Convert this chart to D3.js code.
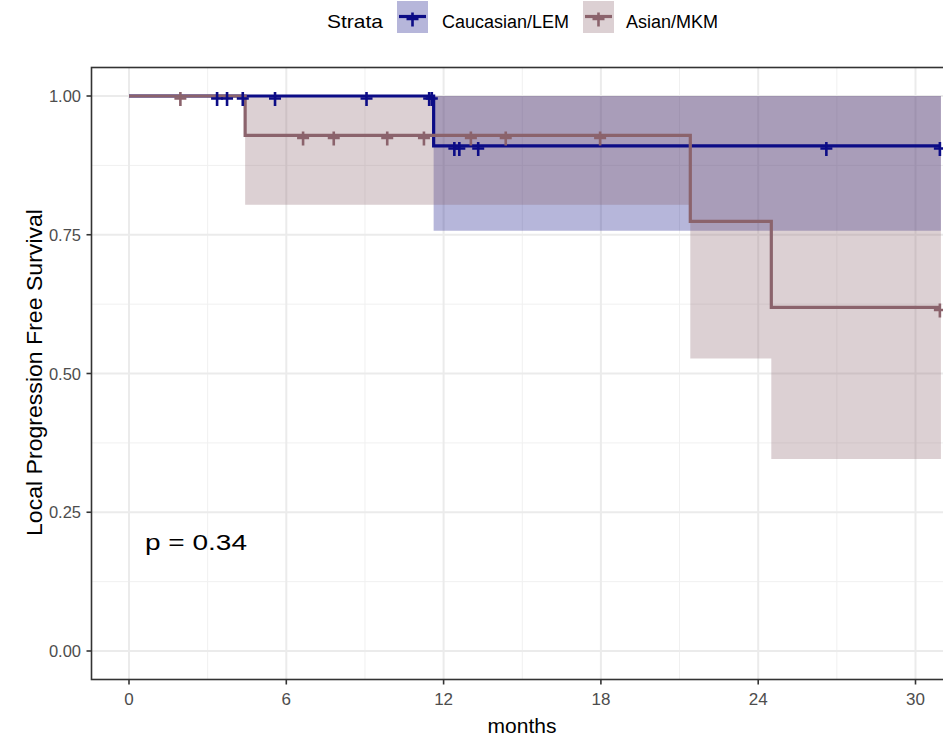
<!DOCTYPE html>
<html>
<head>
<meta charset="utf-8">
<script src="https://cdn.jsdelivr.net/npm/d3@7"></script>
<style>
    body { margin: 0; background: #fff; }
    svg text { font-family: "Liberation Sans", Arial, sans-serif; }
</style>
</head>
<body>
<svg id="chart"></svg>
<script>

// Strata
const strata = ["Caucasian/LEM", "Asian/MKM"];
const strataColors = ["#0c0c86", "#8b636c"];

// Caucasian/LEM curve (step times, survival, confidence band)
const lemTime = [0, 11.62, 30.97];
const lemSurv = [1.0, 0.91, 0.91];
const lemLower = [1.0, 0.757, 0.757];
const lemUpper = [1.0, 1.0, 1.0];
const lemCensor = [3.36, 3.74, 4.34, 5.57, 9.06, 11.45, 11.55, 12.41, 12.6, 13.32, 26.6, 30.93];

// Asian/MKM curve
const mkmTime = [0, 4.43, 21.41, 24.5, 30.97];
const mkmSurv = [1.0, 0.929, 0.774, 0.619, 0.619];
const mkmLower = [1.0, 0.804, 0.527, 0.346, 0.346];
const mkmUpper = [1.0, 1.0, 1.0, 1.0, 1.0];
const mkmCensor = [1.96, 6.64, 7.81, 9.85, 11.25, 13.04, 14.37, 17.97, 30.93];

// Axes
const xTicks = [0, 6, 12, 18, 24, 30];
const xMinor = [3, 9, 15, 21, 27];
const yTicks = [0, 0.25, 0.5, 0.75, 1.0];
const yMinor = [0.125, 0.375, 0.625, 0.875];
const pValue = "p = 0.34";

const width = 943;
const height = 737;

const svg = d3.select("#chart")
    .attr("width", width)
    .attr("height", height);

const x = d3.scaleLinear().domain([0, 30]).range([129, 915.5]);
const y = d3.scaleLinear().domain([0, 1]).range([651, 96]);

// panel edges (ggplot expansion, right side is cut by the picture)
const panel = {left: 91.5, right: 990, top: 67.5, bottom: 679.5};

const curves = [
    {name: strata[0], color: strataColors[0], time: lemTime, surv: lemSurv, lower: lemLower, upper: lemUpper, censor: lemCensor},
    {name: strata[1], color: strataColors[1], time: mkmTime, surv: mkmSurv, lower: mkmLower, upper: mkmUpper, censor: mkmCensor}
];

// survival value at time t for a step curve
const stepAt = (c, t) => {
    let v = c.surv[0];
    c.time.forEach((tt, i) => { if (tt <= t) v = c.surv[i]; });
    return v;
};

// grid
const grid = svg.append("g");

grid.selectAll(".xminor")
    .data(xMinor)
    .enter()
    .append("line")
        .attr("x1", d => x(d)).attr("x2", d => x(d))
        .attr("y1", panel.top).attr("y2", panel.bottom)
        .attr("stroke", "#f0f0f0").attr("stroke-width", 1);

grid.selectAll(".yminor")
    .data(yMinor)
    .enter()
    .append("line")
        .attr("x1", panel.left).attr("x2", panel.right)
        .attr("y1", d => y(d)).attr("y2", d => y(d))
        .attr("stroke", "#f0f0f0").attr("stroke-width", 1);

grid.selectAll(".xmajor")
    .data(xTicks)
    .enter()
    .append("line")
        .attr("x1", d => x(d)).attr("x2", d => x(d))
        .attr("y1", panel.top).attr("y2", panel.bottom)
        .attr("stroke", "#ebebeb").attr("stroke-width", 2);

grid.selectAll(".ymajor")
    .data(yTicks)
    .enter()
    .append("line")
        .attr("x1", panel.left).attr("x2", panel.right)
        .attr("y1", d => y(d)).attr("y2", d => y(d))
        .attr("stroke", "#ebebeb").attr("stroke-width", 2);

// confidence bands
const band = d3.area()
    .curve(d3.curveStepAfter)
    .x(d => x(d.t))
    .y0(d => y(d.lo))
    .y1(d => y(d.hi));

curves.forEach(c => {
    svg.append("path")
        .datum(c.time.map((t, i) => ({t: t, lo: c.lower[i], hi: c.upper[i]})))
        .attr("d", band)
        .attr("fill", c.color)
        .attr("fill-opacity", 0.3);
});

// survival steps
const step = d3.line()
    .curve(d3.curveStepAfter)
    .x(d => x(d.t))
    .y(d => y(d.s));

curves.forEach(c => {
    svg.append("path")
        .datum(c.time.map((t, i) => ({t: t, s: c.surv[i]})))
        .attr("d", step)
        .attr("fill", "none")
        .attr("stroke", c.color)
        .attr("stroke-width", 3.2);
});

// censor marks
const plus = (sel, color) => {
    sel.append("path")
        .attr("d", "M-6,2.5H6M0,-4V10")
        .attr("fill", "none")
        .attr("stroke", color)
        .attr("stroke-width", 2.6);
};

curves.forEach(c => {
    svg.append("g")
        .selectAll("g")
        .data(c.censor)
        .enter()
        .append("g")
            .attr("transform", d => `translate(${x(d)},${y(stepAt(c, d))})`)
            .call(plus, c.color);
});

// panel border
svg.append("rect")
    .attr("x", panel.left).attr("y", panel.top)
    .attr("width", panel.right - panel.left).attr("height", panel.bottom - panel.top)
    .attr("fill", "none")
    .attr("stroke", "#333333")
    .attr("stroke-width", 1.6);

// x axis ticks and labels
svg.append("g")
    .selectAll("line")
    .data(xTicks)
    .enter()
    .append("line")
        .attr("x1", d => x(d)).attr("x2", d => x(d))
        .attr("y1", panel.bottom).attr("y2", panel.bottom + 5)
        .attr("stroke", "#333333").attr("stroke-width", 1.6);

svg.append("g")
    .selectAll("text")
    .data(xTicks)
    .enter()
    .append("text")
        .attr("x", d => x(d))
        .attr("y", 705)
        .attr("text-anchor", "middle")
        .attr("font-size", 17)
        .attr("fill", "#4d4d4d")
        .text(d => d);

// y axis ticks and labels
svg.append("g")
    .selectAll("line")
    .data(yTicks)
    .enter()
    .append("line")
        .attr("x1", panel.left - 5).attr("x2", panel.left)
        .attr("y1", d => y(d)).attr("y2", d => y(d))
        .attr("stroke", "#333333").attr("stroke-width", 1.6);

svg.append("g")
    .selectAll("text")
    .data(yTicks)
    .enter()
    .append("text")
        .attr("x", 81)
        .attr("y", d => y(d) + 6)
        .attr("text-anchor", "end")
        .attr("font-size", 16.5)
        .attr("fill", "#4d4d4d")
        .text(d => d3.format(".2f")(d));

// axis titles
svg.append("text")
    .attr("x", 522)
    .attr("y", 733)
    .attr("text-anchor", "middle")
    .attr("font-size", 21)
    .attr("fill", "#000")
    .text("months");

svg.append("text")
    .attr("transform", "translate(41.5,372.5) rotate(-90)")
    .attr("text-anchor", "middle")
    .attr("font-size", 21.5)
    .attr("textLength", 327)
    .attr("lengthAdjust", "spacingAndGlyphs")
    .attr("fill", "#000")
    .text("Local Progression Free Survival");

// p value
svg.append("text")
    .attr("x", 145)
    .attr("y", 549.5)
    .attr("font-size", 22)
    .attr("textLength", 102)
    .attr("lengthAdjust", "spacingAndGlyphs")
    .attr("fill", "#000")
    .text(pValue);

// legend
const legend = svg.append("g");

legend.append("text")
    .attr("x", 327)
    .attr("y", 28)
    .attr("font-size", 19)
    .attr("textLength", 56)
    .attr("lengthAdjust", "spacingAndGlyphs")
    .text("Strata");

const keys = [
    {x: 397, tx: 442, len: 127},
    {x: 583, tx: 626, len: 92}
];

curves.forEach((c, i) => {
    const k = legend.append("g")
        .attr("transform", `translate(${keys[i].x},1)`);

    k.append("rect")
        .attr("width", 31).attr("height", 32)
        .attr("fill", c.color)
        .attr("fill-opacity", 0.3);

    k.append("line")
        .attr("x1", 2).attr("x2", 29)
        .attr("y1", 15.5).attr("y2", 15.5)
        .attr("stroke", c.color)
        .attr("stroke-width", 3.2);

    k.append("g")
        .attr("transform", "translate(15.5,15.5)")
        .call(plus, c.color);

    legend.append("text")
        .attr("x", keys[i].tx)
        .attr("y", 28)
        .attr("font-size", 18)
        .attr("textLength", keys[i].len)
        .attr("lengthAdjust", "spacingAndGlyphs")
        .text(c.name);
});

</script>
</body>
</html>
